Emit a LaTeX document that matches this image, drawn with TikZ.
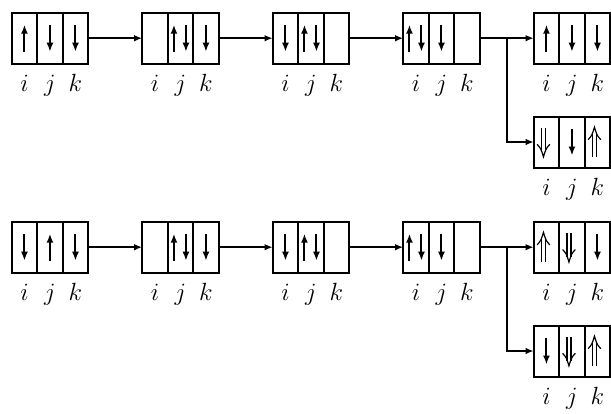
\documentclass[tikz,border=0pt]{standalone}
\usetikzlibrary{arrows.meta,calc}
\tikzset{
  cellbox/.style={draw,line width=2pt,minimum width=25.5pt,minimum height=51pt,inner sep=0pt,outer sep=0pt},
  lab/.style={anchor=base,inner sep=0pt,font=\fontsize{29}{29}\selectfont},
  sarr/.style={line width=2pt,-{Latex[length=9pt,width=7pt]}},
  dline/.style={line width=1.2pt},
  conn/.style={line width=2pt,-{Latex[length=8pt,width=6.5pt]}}
}
\newcommand\tribox[3]{% name, left x, center y
  \node[cellbox] (#1-1) at (#2+12.75,#3) {};
  \node[cellbox] (#1-2) at (#2+38.25,#3) {};
  \node[cellbox] (#1-3) at (#2+63.75,#3) {};
  \node[lab] (#1-i) at (#2+12.75,#3+53) {$i$};
  \node[lab] (#1-j) at (#2+38.25,#3+53) {$j$};
  \node[lab] (#1-k) at (#2+63.75,#3+53) {$k$};
}
\newcommand\U[1]{\draw[sarr] ([yshift=-13.5pt]#1.center) -- ([yshift=13.5pt]#1.center);}
\newcommand\D[1]{\draw[sarr] ([yshift=13.5pt]#1.center) -- ([yshift=-13.5pt]#1.center);}
\newcommand\UD[1]{\draw[sarr] ([xshift=-6.5pt,yshift=-13.5pt]#1.center) -- ([xshift=-6.5pt,yshift=13.5pt]#1.center);
  \draw[sarr] ([xshift=5.5pt,yshift=13.5pt]#1.center) -- ([xshift=5.5pt,yshift=-13.5pt]#1.center);}
% double arrows drawn by hand: second argument 1 = up, -1 = down
\newcommand\dbl[2]{%
  \begin{scope}[shift={([xshift=-3pt]#1.center)},x=1pt,y=#2 pt]
    \draw[dline] (-2,-14.5) -- (-2,9.5);
    \draw[dline] (2,-14.5) -- (2,9.5);
    \draw[dline,line cap=round] (-6.2,2.5) .. controls (-2.6,6.5) .. (0,14.8) .. controls (2.6,6.5) .. (6.2,2.5);
  \end{scope}}
\newcommand\UU[1]{\dbl{#1}{1}}
\newcommand\DD[1]{\dbl{#1}{-1}}
\begin{document}
\begin{tikzpicture}[x=1pt,y=-1pt]
\useasboundingbox (0,0) rectangle (611,413);
% row 1
\tribox{a1}{11.7}{38.2}
\tribox{a2}{142.2}{38.2}
\tribox{a3}{272.7}{38.2}
\tribox{a4}{403.2}{38.2}
\tribox{a5}{533.7}{38.2}
\tribox{a6}{533.7}{142}
\U{a1-1}\D{a1-2}\D{a1-3}
\UD{a2-2}\D{a2-3}
\D{a3-1}\UD{a3-2}
\UD{a4-1}\D{a4-2}
\U{a5-1}\D{a5-2}\D{a5-3}
\DD{a6-1}\D{a6-2}\UU{a6-3}
\draw[conn] (a1-3.east) -- (a2-1.west);
\draw[conn] (a2-3.east) -- (a3-1.west);
\draw[conn] (a3-3.east) -- (a4-1.west);
\draw[conn] (a4-3.east) -- (a5-1.west);
\coordinate (abr) at ($(a4-3.east)!0.5!(a5-1.west)$);
\draw[conn] (abr) |- (a6-1.west);
% row 2
\tribox{b1}{11.7}{247.2}
\tribox{b2}{142.2}{247.2}
\tribox{b3}{272.7}{247.2}
\tribox{b4}{403.2}{247.2}
\tribox{b5}{533.7}{247.2}
\tribox{b6}{533.7}{351}
\D{b1-1}\U{b1-2}\D{b1-3}
\UD{b2-2}\D{b2-3}
\D{b3-1}\UD{b3-2}
\UD{b4-1}\D{b4-2}
\UU{b5-1}\DD{b5-2}\D{b5-3}
\D{b6-1}\DD{b6-2}\UU{b6-3}
\draw[conn] (b1-3.east) -- (b2-1.west);
\draw[conn] (b2-3.east) -- (b3-1.west);
\draw[conn] (b3-3.east) -- (b4-1.west);
\draw[conn] (b4-3.east) -- (b5-1.west);
\coordinate (bbr) at ($(b4-3.east)!0.5!(b5-1.west)$);
\draw[conn] (bbr) |- (b6-1.west);
\end{tikzpicture}
\end{document}
